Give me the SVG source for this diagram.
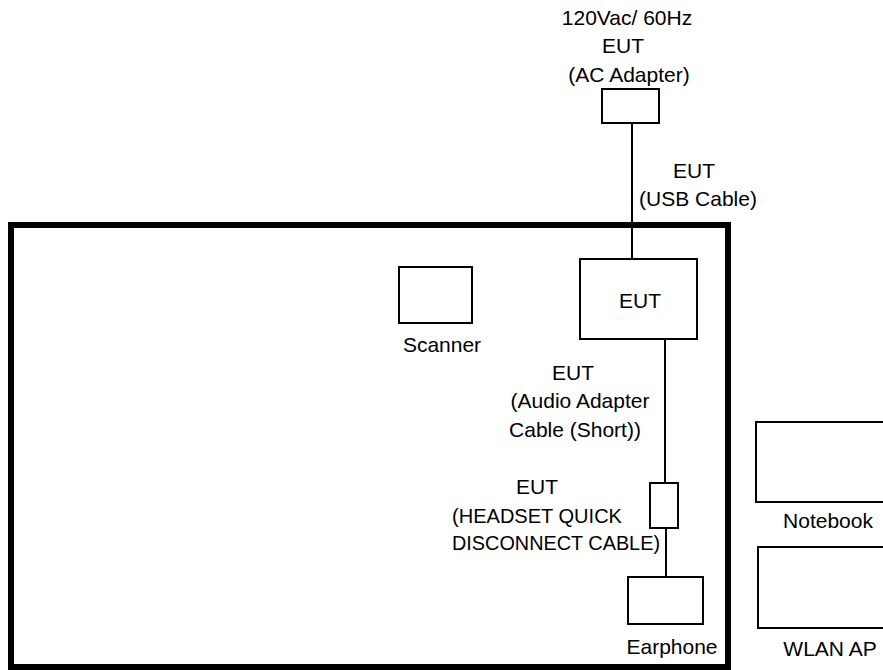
<svg xmlns="http://www.w3.org/2000/svg" width="883" height="670" viewBox="0 0 883 670">
<style>
.box{fill:#fff;stroke:#000;stroke-width:2}
.frame{fill:none;stroke:#000;stroke-width:6}
.ln{stroke:#000;stroke-width:2;fill:none}
text{font-family:"Liberation Sans",Arial,sans-serif;font-size:21px;fill:#000;text-anchor:middle}
</style>
<rect width="883" height="670" fill="#fff"/>
<rect id="frame" class="frame" x="11" y="225" width="717" height="442"/>
<g id="connectors">
<line class="ln" x1="632" y1="123" x2="632" y2="259"/>
<line class="ln" x1="665" y1="339" x2="665" y2="483"/>
<line class="ln" x1="666" y1="528" x2="666" y2="577"/>
</g>
<g id="ac-adapter">
<rect class="box" x="602" y="89" width="57" height="34"/>
<text x="627" y="25">120Vac/ 60Hz</text>
<text x="623" y="53">EUT</text>
<text x="629" y="82">(AC Adapter)</text>
</g>
<g id="usb-cable-label">
<text x="694" y="178">EUT</text>
<text x="698" y="206">(USB Cable)</text>
</g>
<g id="eut">
<rect class="box" x="580" y="259" width="117" height="80"/>
<text x="640" y="308">EUT</text>
</g>
<g id="scanner">
<rect class="box" x="399" y="267" width="73" height="56"/>
<text x="442" y="352">Scanner</text>
</g>
<g id="audio-cable-label">
<text x="573" y="380">EUT</text>
<text x="580" y="408">(Audio Adapter</text>
<text x="575" y="437">Cable (Short))</text>
</g>
<g id="quick-disconnect">
<rect class="box" x="650" y="483" width="28" height="45"/>
</g>
<g id="headset-label">
<text x="537" y="494">EUT</text>
<text x="537" y="523" textLength="170" lengthAdjust="spacingAndGlyphs">(HEADSET QUICK</text>
<text x="556" y="550" textLength="208" lengthAdjust="spacingAndGlyphs">DISCONNECT CABLE)</text>
</g>
<g id="earphone">
<rect class="box" x="628" y="577" width="75" height="47"/>
<text x="672" y="654">Earphone</text>
</g>
<g id="notebook">
<rect class="box" x="756" y="422" width="140" height="80"/>
<text x="828" y="528">Notebook</text>
</g>
<g id="wlan-ap">
<rect class="box" x="758" y="547" width="140" height="81"/>
<text x="830" y="656">WLAN AP</text>
</g>
</svg>
